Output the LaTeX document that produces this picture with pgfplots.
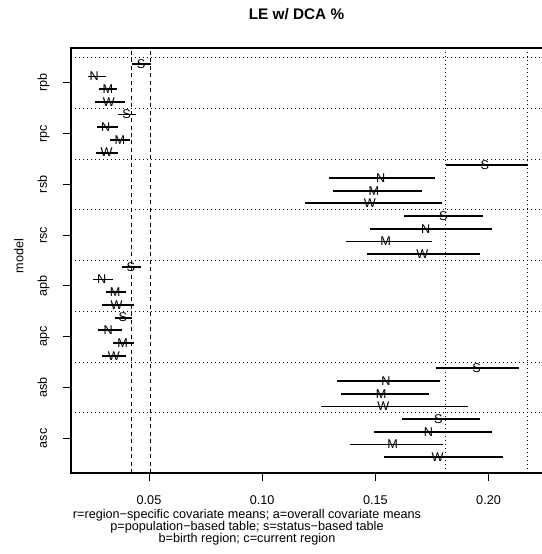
\documentclass[border=0pt]{standalone}
\usepackage{fontspec}
\setmainfont{Liberation Sans}
\usepackage{pgfplots}
\pgfplotsset{compat=1.18}
\usepackage{pgfplotstable}

\pgfplotstableread{
y lo est hi lab
0 0.0424 0.0465 0.0508 S
-1 0.0229 0.0258 0.0309 N
-2 0.0279 0.0318 0.0357 M
-3 0.0261 0.0323 0.0394 W
-4 0.0362 0.0401 0.0443 S
-5 0.0269 0.0309 0.0364 N
-6 0.0328 0.0372 0.0416 M
-7 0.0265 0.0313 0.0362 W
-8 0.1810 0.1984 0.2173 S
-9 0.1295 0.1523 0.1763 N
-10 0.1311 0.1494 0.1704 M
-11 0.1189 0.1476 0.1793 W
-12 0.1626 0.1800 0.1977 S
-13 0.1475 0.1722 0.2016 N
-14 0.1372 0.1545 0.1751 M
-15 0.1462 0.1707 0.1963 W
-16 0.0382 0.0420 0.0465 S
-17 0.0253 0.0291 0.0340 N
-18 0.0309 0.0350 0.0397 M
-19 0.0294 0.0357 0.0432 W
-20 0.0350 0.0384 0.0426 S
-21 0.0276 0.0320 0.0379 N
-22 0.0340 0.0384 0.0434 M
-23 0.0291 0.0345 0.0398 W
-24 0.1768 0.1947 0.2136 S
-25 0.1329 0.1547 0.1785 N
-26 0.1348 0.1525 0.1737 M
-27 0.1260 0.1535 0.1908 W
-28 0.1616 0.1778 0.1962 S
-29 0.1494 0.1734 0.2014 N
-30 0.1389 0.1576 0.1800 M
-31 0.1539 0.1775 0.2065 W
}\data

\newcommand{\tfont}{\fontsize{9.5}{11}\selectfont}

\begin{document}
\begin{tikzpicture}
\useasboundingbox (-53.25pt,-60.75pt) rectangle (353.25pt,354.75pt);
\begin{axis}[
  at={(0,0)}, anchor=south west,
  scale only axis, width=353.25pt, height=318.75pt,
  xmin=0.01555, xmax=0.2236,
  ymin=-32.24, ymax=1.24,
  clip=false,
  axis line style={draw=none},
  tick align=outside, major tick length=6pt,
  tick style={black, line width=0.6pt},
  xtick pos=bottom, ytick pos=left,
  xtick={0.05,0.10,0.15,0.20},
  xticklabels={0.05,0.10,0.15,0.20},
  ytick={-1.5,-5.5,-9.5,-13.5,-17.5,-21.5,-25.5,-29.5},
  yticklabels={rpb,rpc,rsb,rsc,apb,apc,asb,asc},
  tick label style={font=\tfont},
  yticklabel style={rotate=90, anchor=base, yshift=12pt},
  xticklabel style={anchor=base, yshift=-18pt},
]
\pgfplotsinvokeforeach{0.5,-3.5,-7.5,-11.5,-15.5,-19.5,-23.5,-27.5}{
  \draw[black, line width=0.6pt, dash pattern=on 0.7pt off 2.3pt] (axis cs:0.01555,#1) -- (axis cs:0.2236,#1);
}
\addplot[black, line width=0.7pt, dash pattern=on 3pt off 2.6pt, forget plot] coordinates {(0.0424,-32.24) (0.0424,1.24)};
\addplot[black, line width=0.7pt, dash pattern=on 3pt off 2.6pt, forget plot] coordinates {(0.0508,-32.24) (0.0508,1.24)};
\addplot[black, line width=0.6pt, dash pattern=on 0.7pt off 2.3pt, forget plot] coordinates {(0.1810,-32.24) (0.1810,1.24)};
\addplot[black, line width=0.6pt, dash pattern=on 0.7pt off 2.3pt, forget plot] coordinates {(0.2173,-32.24) (0.2173,1.24)};
\addplot[draw=none, mark=none, forget plot,
  error bars/.cd, x dir=both, x explicit, error mark=none,
  error bar style={draw=black, solid, line width=1.4pt}]
  table[x=est, y=y, x error plus expr=\thisrow{hi}-\thisrow{est}, x error minus expr=\thisrow{est}-\thisrow{lo}] {\data};
\addplot[draw=none, mark=none, forget plot,
  nodes near coords, point meta=explicit symbolic,
  every node near coord/.append style={anchor=center, inner sep=0pt, font=\tfont, text=black}]
  table[x=est, y=y, meta=lab] {\data};
\end{axis}
\draw[black, line width=0.8pt] (current axis.north east) -- (current axis.north west) -- (current axis.south west) -- (current axis.south east);
\node[anchor=base, font=\fontsize{11.5}{13}\selectfont\bfseries] at (169.1pt,339.75pt) {LE w/ DCA \%};
\node[anchor=base, rotate=90, font=\tfont] at (-35.8pt,162.75pt) {model};
\node[anchor=base, font=\tfont] at (132pt,-34pt) {r=region−specific covariate means; a=overall covariate means};
\node[anchor=base, font=\tfont] at (132pt,-43.3pt) {p=population−based table; s=status−based table};
\node[anchor=base, font=\tfont] at (132pt,-52pt) {b=birth region; c=current region};
\end{tikzpicture}
\end{document}
